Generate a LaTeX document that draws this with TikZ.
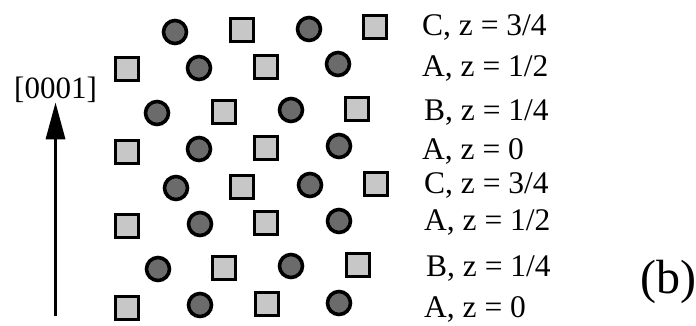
\documentclass[tikz,border=0pt]{standalone}
\usepackage{fontspec}
\setmainfont{Liberation Serif}
\usetikzlibrary{arrows.meta}
\tikzset{
    anion/.style={draw, rectangle, fill=black!22, line width=3.6pt, minimum size=23pt, inner sep=0pt},
    cation/.style={draw, circle, fill=black!58, line width=3.6pt, minimum size=23pt, inner sep=0pt},
    layer/.style={anchor=base west, inner sep=0pt, font=\fontsize{31.5}{31.5}\selectfont},
    axislabel/.style={anchor=base west, inner sep=0pt, font=\fontsize{31}{31}\selectfont},
    panel/.style={anchor=base west, inner sep=0pt, font=\fontsize{48}{48}\selectfont},
    arrow/.style={-{Triangle[length=37pt, width=19pt]}, line width=3.4pt}
}
\begin{document}
\begin{tikzpicture}[x=1pt, y=-1pt]
        \useasboundingbox (0,0) rectangle (696,325);

        % Row 1
        \node[cation] (c11) at (175,32) {};
        \node[anion] (a11) at (242,30) {};
        \node[cation] (c12) at (309,29) {};
        \node[anion] (a12) at (375,27) {};

        % Row 2
        \node[anion] (a21) at (127,69) {};
        \node[cation] (c21) at (199,68) {};
        \node[anion] (a22) at (266,67) {};
        \node[cation] (c22) at (338,64) {};

        % Row 3
        \node[cation] (c31) at (157,113) {};
        \node[anion] (a31) at (224,112) {};
        \node[cation] (c32) at (291,110) {};
        \node[anion] (a32) at (357,109) {};

        % Row 4
        \node[anion] (a41) at (127,152) {};
        \node[cation] (c41) at (199,149) {};
        \node[anion] (a42) at (266,148) {};
        \node[cation] (c42) at (339,146) {};

        % Row 5
        \node[cation] (c51) at (176,188) {};
        \node[anion] (a51) at (242,187) {};
        \node[cation] (c52) at (310,185) {};
        \node[anion] (a52) at (376,184) {};

        % Row 6
        \node[anion] (a61) at (127,226) {};
        \node[cation] (c61) at (200,224) {};
        \node[anion] (a62) at (266,223) {};
        \node[cation] (c62) at (339,221) {};

        % Row 7
        \node[cation] (c71) at (158,269) {};
        \node[anion] (a71) at (224,268) {};
        \node[cation] (c72) at (291,266) {};
        \node[anion] (a72) at (358,265) {};

        % Row 8
        \node[anion] (a81) at (127,308) {};
        \node[cation] (c81) at (200,305) {};
        \node[anion] (a82) at (267,304) {};
        \node[cation] (c82) at (339,303) {};

        % Layer labels
        \node[layer] (l1) at (422,35) {C, z = 3/4};
        \node[layer] (l2) at (422,76) {A, z = 1/2};
        \node[layer] (l3) at (424,120) {B, z = 1/4};
        \node[layer] (l4) at (422,159) {A, z = 0};
        \node[layer] (l5) at (424,193) {C, z = 3/4};
        \node[layer] (l6) at (424,230) {A, z = 1/2};
        \node[layer] (l7) at (426,276) {B, z = 1/4};
        \node[layer] (l8) at (424,317) {A, z = 0};

        % Growth axis
        \node[axislabel] (axis) at (14,98) {[0001]};
        \coordinate (tail) at (axis.south |- 0,316);
        \draw[arrow] (tail) -- (axis.south);

        % Panel label
        \node[panel] (panel) at (640,293) {(b)};
\end{tikzpicture}
\end{document}
